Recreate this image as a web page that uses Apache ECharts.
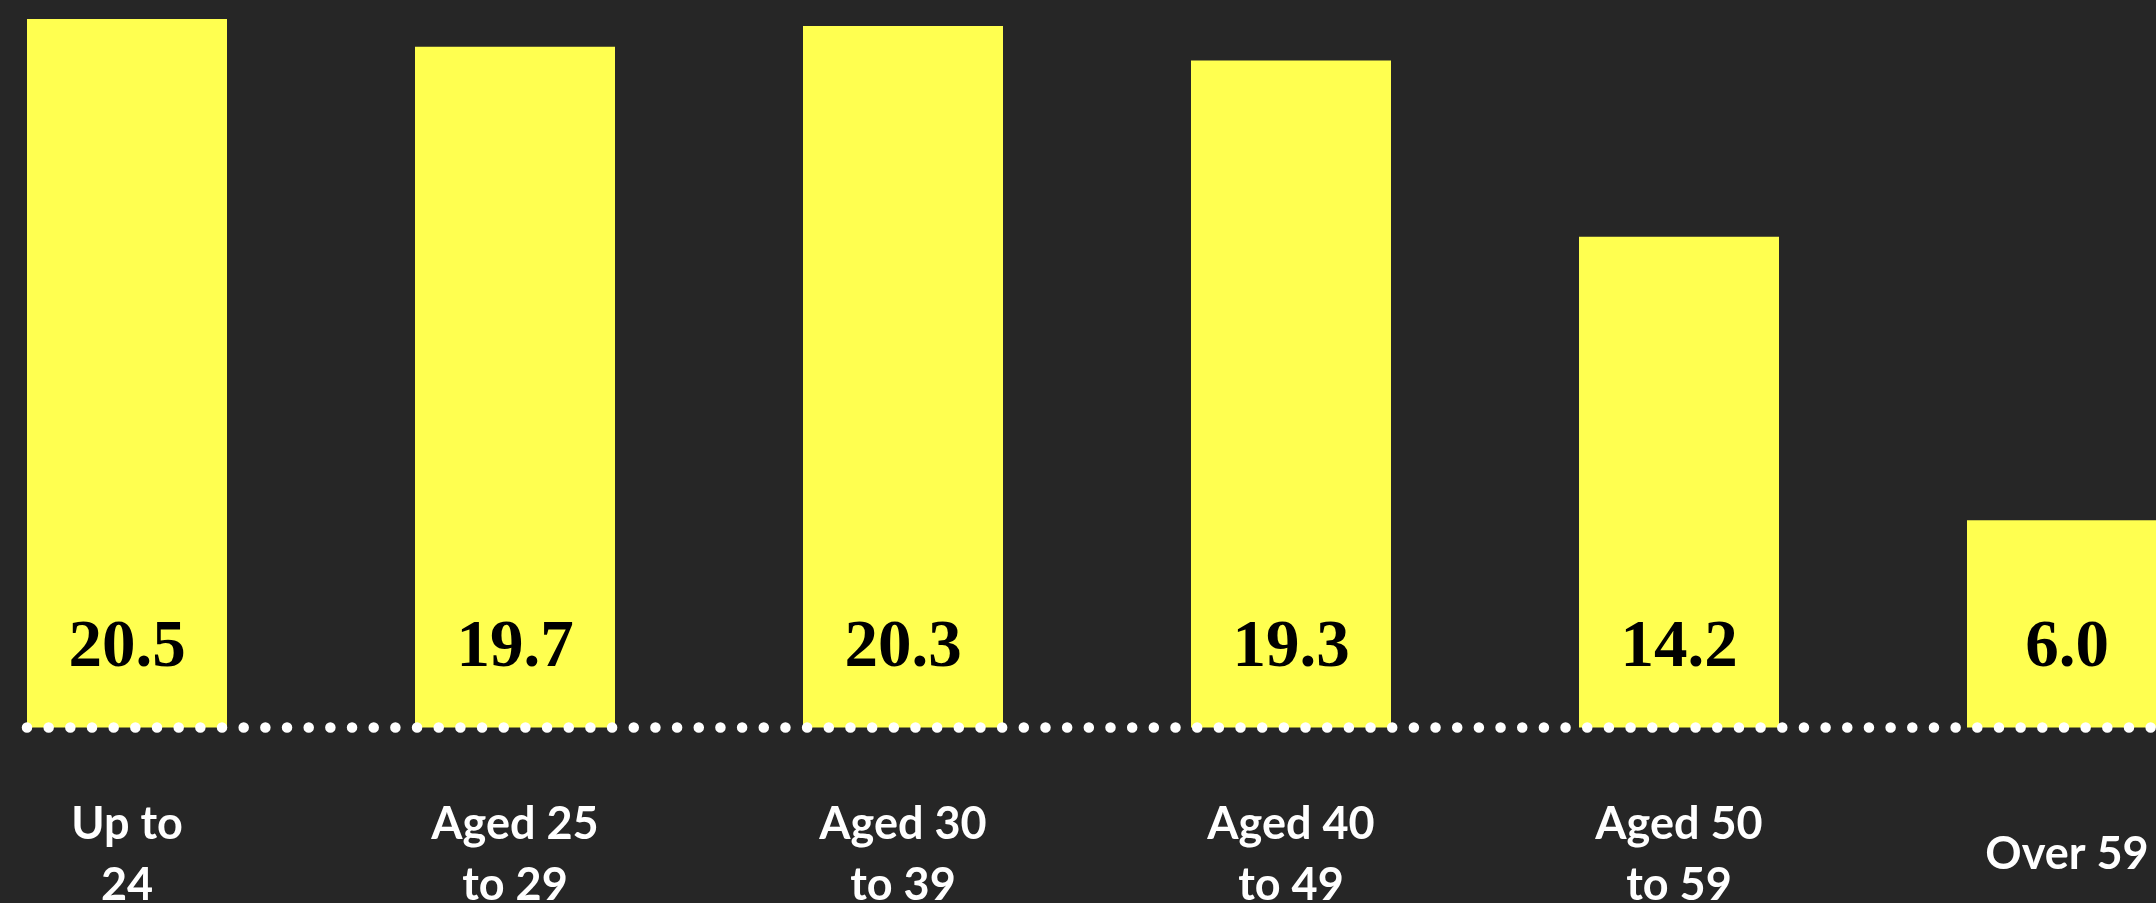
<!DOCTYPE html>
<html>
<head>
<meta charset="utf-8">
<script src="https://cdn.jsdelivr.net/npm/echarts@6/dist/echarts.min.js"></script>
<style>
html,body{margin:0;padding:0;background:#262626;}
#chart{width:2156px;height:903px;}
</style>
</head>
<body>
<div id="chart"></div>
<script>
const categories = ['Up to\n24', 'Aged 25\nto 29', 'Aged 30\nto 39', 'Aged 40\nto 49', 'Aged 50\nto 59', 'Over 59'];
const values = [20.5, 19.7, 20.3, 19.3, 14.2, 6.0];

const BAR_W = 200;
const chart = echarts.init(document.getElementById('chart'), null, {renderer: 'canvas'});
chart.setOption({
  backgroundColor: '#262626',
  animation: false,
  grid: {left: -67, width: 2328, top: 19, bottom: 175.5, containLabel: false, outerBoundsMode: 'none'},
  xAxis: {
    type: 'category',
    data: categories,
    axisLine: {show: false},
    axisTick: {show: false},
    axisLabel: {
      color: '#ffffff',
      fontFamily: 'Lato',
      fontWeight: 'bold',
      fontSize: 45,
      lineHeight: 61,
      verticalAlign: 'middle',
      align: 'center',
      margin: 127,
      interval: 0,
      hideOverlap: false
    }
  },
  yAxis: {
    type: 'value',
    min: 0,
    max: 20.5,
    show: false,
    splitLine: {show: false}
  },
  series: [{
    type: 'bar',
    data: values,
    barWidth: BAR_W,
    itemStyle: {color: '#ffff50'},
    label: {
      show: true,
      position: 'insideBottom',
      distance: 45,
      color: '#000000',
      fontFamily: 'Liberation Serif',
      fontWeight: 'bold',
      fontSize: 67,
      lineHeight: 67,
      formatter: p => p.value.toFixed(1)
    }
  }]
});

const x0 = chart.convertToPixel({xAxisIndex: 0}, 0) - BAR_W / 2;
const y0 = chart.convertToPixel({yAxisIndex: 0}, 0);
chart.setOption({
  graphic: [{
    type: 'line',
    z: 100,
    shape: {x1: x0, y1: y0, x2: 2170, y2: y0},
    style: {stroke: '#ffffff', lineWidth: 10.5, lineCap: 'round', lineDash: [0, 21.67]}
  }]
});
</script>
</body>
</html>
